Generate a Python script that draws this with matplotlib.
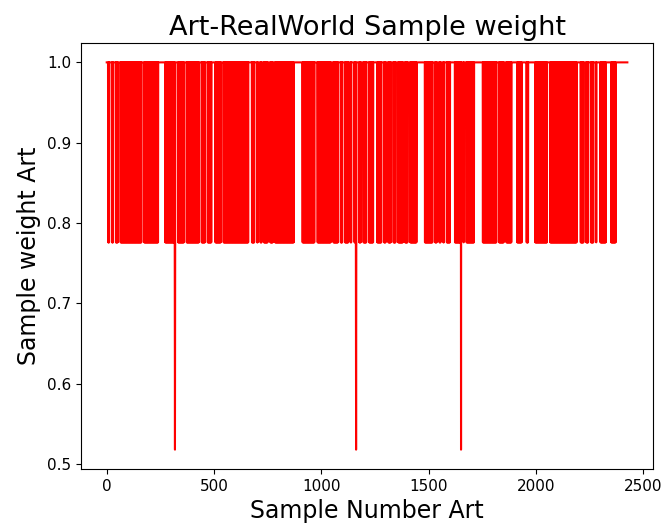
import numpy as np
import matplotlib
matplotlib.use("Agg")
import matplotlib.pyplot as plt

# ---- data ----
n_samples = 2427
high_weight = 1.0
low_weight = 0.776
dip_weight = 0.518
dip_idx = [318, 1162, 1651]

# sample ranges where the weight stays at 1.0 (white gaps)
gap_start = [0, 12, 31, 53, 162, 240, 321, 361, 431, 459, 489, 532, 660, 689, 705,
             722, 751, 774, 872, 969, 1045, 1079, 1099, 1126, 1140, 1165, 1184, 1210,
             1242, 1281, 1301, 1324, 1347, 1380, 1403, 1445, 1519, 1539, 1557, 1572,
             1600, 1653, 1664, 1712, 1817, 1851, 1887, 1934, 1965, 2052, 2190, 2222,
             2245, 2269, 2283, 2327, 2373]
gap_end = [7, 24, 43, 65, 174, 272, 332, 373, 443, 471, 506, 545, 677, 700, 717,
           733, 762, 785, 913, 982, 1057, 1090, 1110, 1137, 1155, 1177, 1196, 1222,
           1261, 1292, 1313, 1336, 1359, 1391, 1414, 1483, 1531, 1550, 1569, 1584,
           1623, 1662, 1677, 1752, 1829, 1862, 1913, 1957, 1996, 2066, 2209, 2235,
           2257, 2280, 2300, 2351, 2427]

# build the weight series: alternating between the two levels outside the gaps
weights = np.where(np.arange(n_samples) % 2 == 1, low_weight, high_weight).astype(float)
for s, e in zip(gap_start, gap_end):
    weights[s:e] = high_weight
for d in dip_idx:
    weights[d] = dip_weight

x = np.arange(n_samples)

fig = plt.figure(figsize=(6.63, 5.29), dpi=100)
ax = fig.add_axes([0.1217, 0.1134, 0.8638, 0.8053])
ax.plot(x, weights, color="red", linewidth=1.5)
ax.set_title("Art-RealWorld Sample weight", fontsize=19.5)
ax.set_xlabel("Sample Number Art", fontsize=17)
ax.set_ylabel("Sample weight Art", fontsize=17)
ax.set_xticks([0, 500, 1000, 1500, 2000, 2500])
ax.set_yticks([0.5, 0.6, 0.7, 0.8, 0.9, 1.0])
ax.tick_params(labelsize=11)
fig.savefig("out.png", dpi=100)
